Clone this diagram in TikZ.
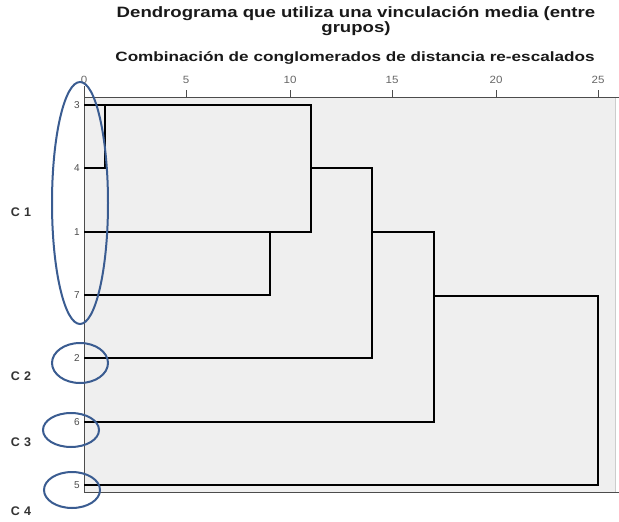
\documentclass[tikz,border=0pt]{standalone}
\usepackage{fontspec}
\setmainfont{Liberation Sans}
\definecolor{ellblue}{RGB}{58,92,145}
\definecolor{plotbg}{RGB}{239,239,239}
\begin{document}
\begin{tikzpicture}[x=1pt,y=-1pt,
  dline/.style={draw=black,line width=1.3pt},
  axline/.style={draw=black!70,line width=0.9pt},
  ticklab/.style={font=\fontsize{10.5}{12}\selectfont,text=black!60,inner sep=0pt},
  leaflab/.style={font=\fontsize{10}{12}\selectfont,text=black!70,inner sep=0pt,anchor=east},
  clab/.style={font=\bfseries\fontsize{12.5}{14}\selectfont,text=black!80,inner sep=0pt},
  grp/.style={draw=ellblue,line width=2pt},
  ttl/.style={font=\bfseries\fontsize{15}{17}\selectfont,text=black!90,inner sep=0pt}]
\useasboundingbox (0,0) rectangle (619,522);
\fill[white] (0,0) rectangle (619,522);
% plot area
\fill[plotbg] (84,97) rectangle (615,492);
\draw[black!20,line width=0.8pt] (615,97) -- (615,492);
\draw[axline] (84,97) -- (619,97);
\draw[axline] (84,86) -- (84,492);
\draw[axline] (84,492) -- (619,492);
% ticks and labels
\foreach \v/\xx in {0/84,5/186,10/290,15/392,20/496,25/598}{
  \draw[axline] (\xx,90) -- (\xx,97);
  \node[ticklab] (t\v) at (\xx,80) {\scalebox{1.1}[1]{\v}};
}
% titles
\node[ttl] (title1) at (356,14) {\scalebox{1.24}[1]{Dendrograma que utiliza una vinculación media (entre}};
\node[ttl] (title2) at (356,29) {\scalebox{1.24}[1]{grupos)}};
\node[font=\bfseries\fontsize{13.5}{15}\selectfont,text=black!90,inner sep=0pt] (subtitle) at (355,58) {\scalebox{1.27}[1]{Combinación de conglomerados de distancia re-escalados}};
% leaf labels
\node[leaflab] (l3) at (80,105) {3};
\node[leaflab] (l4) at (80,168) {4};
\node[leaflab] (l1) at (80,232) {1};
\node[leaflab] (l7) at (80,295) {7};
\node[leaflab] (l2) at (80,358) {2};
\node[leaflab] (l6) at (80,422) {6};
\node[leaflab] (l5) at (80,485) {5};
% leaf start points
\coordinate (p3) at (84,105);
\coordinate (p4) at (84,168);
\coordinate (p1) at (84,232);
\coordinate (p7) at (84,295);
\coordinate (p2) at (84,358);
\coordinate (p6) at (84,422);
\coordinate (p5) at (84,485);
% junctions
\coordinate (a3) at (105,105); \coordinate (a4) at (105,168);
\coordinate (b1) at (270,232); \coordinate (b7) at (270,295);
\coordinate (c1) at (311,105); \coordinate (c2) at (311,232); \coordinate (cm) at (311,168);
\coordinate (d1) at (372,168); \coordinate (d2) at (372,358); \coordinate (dm) at (372,232);
\coordinate (e1) at (434,232); \coordinate (e2) at (434,422); \coordinate (em) at (434,296);
\coordinate (f1) at (598,296); \coordinate (f2) at (598,485);
% dendrogram
\draw[dline] (p3) -- (c1) -- (c2) -- (p1);
\draw[dline] (p4) -- (a4) -- (a3);
\draw[dline] (p7) -- (b7) -- (b1);
\draw[dline] (cm) -- (d1) -- (d2) -- (p2);
\draw[dline] (dm) -- (e1) -- (e2) -- (p6);
\draw[dline] (em) -- (f1) -- (f2) -- (p5);
% group ellipses
\draw[grp] (80,203) ellipse [x radius=28pt, y radius=121pt];
\draw[grp] (80,363) ellipse [x radius=28pt, y radius=20pt];
\draw[grp] (71,430) ellipse [x radius=28pt, y radius=17pt];
\draw[grp] (72,490) ellipse [x radius=28pt, y radius=18pt];
% cluster labels
\node[clab] (C1) at (21,212) {C\,\,1};
\node[clab] (C2) at (21,376) {C\,\,2};
\node[clab] (C3) at (21,442) {C\,\,3};
\node[clab] (C4) at (21,511) {C\,\,4};
\end{tikzpicture}
\end{document}
